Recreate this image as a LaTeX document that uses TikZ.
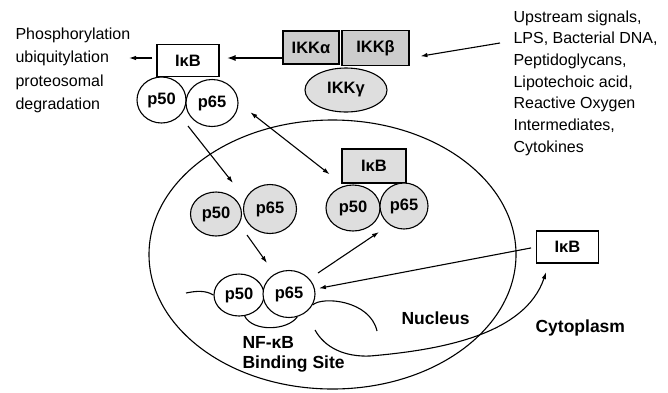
\documentclass[tikz,border=0pt]{standalone}
\usepackage{fontspec}
\setmainfont{Liberation Sans}
\usetikzlibrary{arrows.meta,shapes.geometric,calc}
\definecolor{kinase}{gray}{0.80}
\definecolor{dimer}{gray}{0.87}

\begin{document}
\begin{tikzpicture}[
    x=1pt, y=-1pt, line width=1.1pt,
    prot/.style={draw, fill=white, inner sep=0pt, font=\bfseries\fontsize{16.5}{18}\selectfont},
    ikb/.style={prot, minimum width=62pt, minimum height=32pt},
    sub/.style={prot, ellipse, minimum width=50pt, minimum height=46pt},
    note/.style={inner sep=0pt, align=left, font=\fontsize{16}{23.5}\selectfont},
    place/.style={inner sep=0pt, font=\bfseries\fontsize{17.5}{20.5}\selectfont},
    arr/.style={-{Latex[length=7pt,width=4.5pt]}, line width=1.1pt},
    arrs/.style={{Latex[length=7pt,width=4.5pt]}-{Latex[length=7pt,width=4.5pt]}, line width=1.1pt}
  ]
  \useasboundingbox (0,0) rectangle (668,392);

  % nucleus
  \node[draw, ellipse, minimum width=367pt, minimum height=269pt, inner sep=0pt] (nuc) at (332.5,254.5) {};

  % IKK complex
  \node[prot, ellipse, fill=dimer, minimum width=82pt, minimum height=44pt] (ikkg) at (346,90) {IKKγ};
  \node[prot, fill=kinase, minimum width=56pt, minimum height=33pt] (ikka) at (311,47.5) {IKKα};
  \node[prot, fill=kinase, minimum width=67pt, minimum height=35pt] (ikkb) at (375.5,48) {IKKβ};

  % cytoplasmic complex
  \node[ikb] (ikbTop) at (188,60.5) {IκB};
  \node[sub, minimum width=49pt] (p50a) at (161.5,100) {p50};
  \node[sub, minimum width=52pt, minimum height=47pt] (p65a) at (212,103) {p65};

  % free dimer
  \node[sub, fill=dimer, minimum width=51pt, minimum height=44pt] (p50b) at (216,214) {p50};
  \node[sub, fill=dimer, minimum width=53pt, minimum height=49pt] (p65b) at (270,209) {p65};

  % re-bound complex
  \node[ikb, fill=dimer, minimum width=64pt, minimum height=34pt] (ikbMid) at (374,166) {IκB};
  \node[sub, fill=dimer, minimum width=54pt] (p50c) at (353,208) {p50};
  \node[sub, fill=dimer, minimum width=48pt] (p65c) at (404,206) {p65};

  % dimer on the DNA
  \node[sub, minimum height=42pt] (p50d) at (239,295) {p50};
  \node[sub, minimum width=52pt, minimum height=47pt] (p65d) at (289,294) {p65};

  \node[ikb] (ikbOut) at (567.5,247) {IκB};

  % texts
  \node[note, anchor=north west] (fate) at (15,27)
    {Phosphorylation\\ubiquitylation\\proteosomal\\degradation};
  \node[note, anchor=north west, font=\fontsize{16}{21.7}\selectfont] (signals) at (513,10)
    {Upstream signals,\\LPS, Bacterial DNA,\\Peptidoglycans,\\Lipotechoic acid,\\Reactive Oxygen\\Intermediates,\\Cytokines};
  \node[place, anchor=base west] (nucLbl) at (401,324) {Nucleus};
  \node[place, anchor=base west] (cytLbl) at (535,332) {Cytoplasm};
  \node[place, align=left, anchor=north west] (siteLbl) at (242,335.5) {NF-κB\\Binding Site};

  \coordinate (fateIn) at (129,58);
  \coordinate (kinLvl) at (0,58);
  \coordinate (sigOut) at (500,43);
  \coordinate (dnaL) at (186,293);
  \coordinate (dnaR) at (377,331);
  \coordinate (expStart) at (315,330);

  % arrows
  \draw[arr, shorten <=4pt] (ikbTop.west |- fateIn) -- (fateIn);
  \draw[-{Latex[length=9pt,width=6pt]}, line width=2pt, shorten >=7pt] (ikka.west |- kinLvl) -- (ikbTop.east |- kinLvl);
  \draw[arr, shorten >=11pt] (sigOut) -- (ikkb.east |- kinLvl);
  \draw[arr] ([shift={(-24,23)}]p65a.center) -- ([shift={(-37,-26)}]p65b.center);
  \draw[arrs, shorten <=15pt, shorten >=15pt] (p65a.east) -- (ikbMid.south west);
  \draw[arr] ([shift={(-23,26)}]p65b.center) -- ([shift={(-22,-31)}]p65d.center);
  \draw[arr] ([shift={(29,-21)}]p65d.center) -- ([shift={(-25,26)}]p65c.center);
  \draw[arr, shorten <=5pt, shorten >=4pt] (ikbOut.west) -- (p65d);
  \draw[arr, shorten >=9pt] (expStart) .. controls (325,348) and (345,357) .. (370,356)
    .. controls (440,350) and (525,335) .. ([xshift=13pt]ikbOut.south west);

  % DNA
  \draw (dnaL) .. controls (196,291) and (205,290) .. (p50d.west);
  \draw (p50d.-75) .. controls +(8,16) and +(-10,14) .. (p65d.-70);
  \draw (p65d.-25) .. controls (322,296) and (370,300) .. (dnaR);
\end{tikzpicture}
\end{document}
